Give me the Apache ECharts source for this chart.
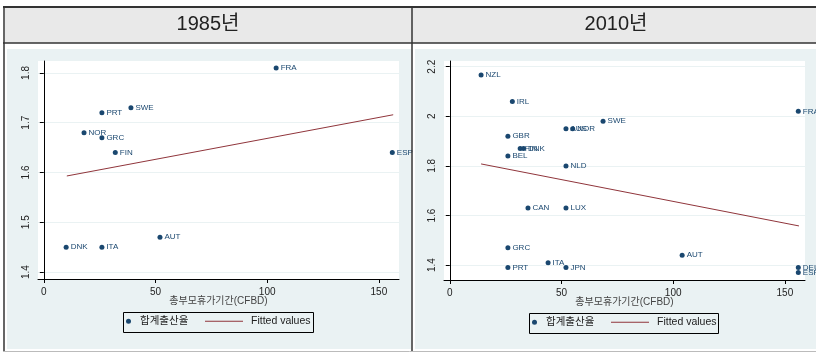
<!DOCTYPE html>
<html>
<head>
<meta charset="utf-8">
<script src="https://cdn.jsdelivr.net/npm/echarts@6/dist/echarts.min.js"></script>
<style>html,body{margin:0;padding:0;background:#fff}#c{width:816px;height:353px}</style>
</head>
<body>
<div id="c"></div>
<script>
// ---- data ----
const panelTitles = ['1985년', '2010년'];
const xName = '총부모휴가기간(CFBD)';
const scatterName = '합계출산율';
const fitName = 'Fitted values';

const codes1985 = ['FRA','PRT','SWE','NOR','GRC','FIN','ESP','DNK','ITA','AUT'];
const cfbd1985  = [104, 26, 39, 18, 26, 32, 156, 10, 26, 52];
const tfr1985   = [1.81, 1.72, 1.73, 1.68, 1.67, 1.64, 1.64, 1.45, 1.45, 1.47];
const fitX1985  = [10.3, 156.4];
const fitY1985  = [1.593, 1.716];

const codes2010 = ['NZL','IRL','FRA','SWE','AUS','NOR','GBR','FIN','DNK','BEL','NLD','CAN','LUX','GRC','PRT','ITA','JPN','AUT','DEU','ESP'];
const cfbd2010  = [14, 28, 156, 68.6, 52, 55, 26, 31.5, 33, 26, 52, 35, 52, 26, 26, 44, 52, 104, 156, 156];
const tfr2010   = [2.167, 2.06, 2.02, 1.98, 1.95, 1.95, 1.92, 1.87, 1.87, 1.84, 1.80, 1.63, 1.63, 1.47, 1.39, 1.41, 1.39, 1.44, 1.39, 1.37];
const fitX2010  = [14, 156.3];
const fitY2010  = [1.808, 1.558];

const xTicks = [0, 50, 100, 150];
const yTicks1985 = [1.4, 1.5, 1.6, 1.7, 1.8];
const yTicks2010 = [1.4, 1.6, 1.8, 2, 2.2];

// ---- styles ----
const NAVY = '#1a476f';
const MAROON = '#90353b';
const BG = '#eaf2f3';
const FONT = '"Liberation Sans", "Noto Sans CJK KR", sans-serif';
const HFONT = '"Liberation Sans", "Noto Sans CJK KR", sans-serif';

const chart = echarts.init(document.getElementById('c'));

function pts(codes, xs, ys) {
  return codes.map((c, i) => ({ name: c, value: [xs[i], ys[i]] }));
}
function line(xs, ys) { return xs.map((x, i) => [x, ys[i]]); }

const grids = [
  { left: 38, right: 417, top: 61, bottom: 74, show: true, backgroundColor: '#fff', borderWidth: 0 },
  { left: 444, right: 11, top: 61, bottom: 73, show: true, backgroundColor: '#fff', borderWidth: 0 }
];

function xAxis(gi) {
  return {
    type: 'value', gridIndex: gi, min: -2.6, max: 159,
    name: xName, nameLocation: 'middle', nameGap: 17.5, nameMoveOverlap: false,
    nameTextStyle: { fontSize: 10, color: '#444', fontFamily: FONT, verticalAlign: 'top' },
    axisLine: { show: true, lineStyle: { color: '#000', width: 1 } },
    axisTick: { show: true, length: 4, lineStyle: { color: '#000' }, customValues: xTicks },
    axisLabel: { fontSize: 10, color: '#222', margin: 8, fontFamily: FONT, customValues: xTicks },
    splitLine: { show: false }
  };
}
function yAxis(gi, min, max, ticks) {
  return {
    type: 'value', gridIndex: gi, min: min, max: max,
    axisLine: { show: true, lineStyle: { color: '#000', width: 1 } },
    axisTick: { show: true, length: 4, lineStyle: { color: '#000' }, customValues: ticks },
    axisLabel: { fontSize: 10, color: '#222', margin: 7, rotate: 90, fontFamily: FONT, customValues: ticks },
    splitLine: { show: true, lineStyle: { color: BG, width: 1 }, customValues: ticks }
  };
}

function scatter(gi, data) {
  return {
    type: 'scatter', name: scatterName, xAxisIndex: gi, yAxisIndex: gi,
    data: data, symbolSize: 5, itemStyle: { color: NAVY, opacity: 1 },
    clip: false,
    label: { show: true, position: 'right', distance: 2, fontSize: 8, color: NAVY, fontFamily: FONT,
      formatter: p => p.name },
    emphasis: { disabled: true }, z: 3
  };
}
function fit(gi, data) {
  return {
    type: 'line', name: fitName, xAxisIndex: gi, yAxisIndex: gi,
    data: data, symbol: 'none', showSymbol: false, lineStyle: { color: MAROON, width: 1 }, itemStyle: { color: MAROON },
    emphasis: { disabled: true }, z: 2
  };
}

function legends(x0, y0) {
  return [
    { data: [{ name: scatterName, icon: 'circle' }], left: x0 + 3, top: y0 + 4, itemWidth: 5, itemHeight: 5, itemGap: 0,
      textStyle: { fontSize: 10.5, color: '#222', fontFamily: FONT, padding: [0, 0, 0, 4] }, padding: 0, selectedMode: false },
    { data: [{ name: fitName, icon: 'rect' }], left: x0 + 82, top: y0 + 4, itemWidth: 38, itemHeight: 1, itemGap: 0,
      itemStyle: { color: MAROON },
      textStyle: { fontSize: 10.5, color: '#222', fontFamily: FONT, padding: [0, 0, 0, 3] }, padding: 0, selectedMode: false }
  ];
}

const titles = [
  { text: panelTitles[0], left: 208, top: 14, textAlign: 'center', padding: 0,
    textStyle: { fontSize: 20, fontWeight: 'normal', fontFamily: HFONT, color: '#222' }, z: 200 },
  { text: panelTitles[1], left: 616, top: 14, textAlign: 'center', padding: 0,
    textStyle: { fontSize: 20, fontWeight: 'normal', fontFamily: HFONT, color: '#222' }, z: 200 }
];

const graphic = [
  { type: 'rect', z: -20, shape: { x: 5, y: 8, width: 811, height: 35 }, style: { fill: '#e9e9e9' } },
  { type: 'rect', z: -20, shape: { x: 7, y: 49, width: 404, height: 300 }, style: { fill: BG } },
  { type: 'rect', z: -20, shape: { x: 415, y: 49, width: 401, height: 300 }, style: { fill: BG } },
  // legend boxes
  { type: 'rect', z: 50, shape: { x: 123.5, y: 312.5, width: 190, height: 20 }, style: { fill: 'none', stroke: '#000', lineWidth: 1 } },
  { type: 'rect', z: 50, shape: { x: 529.5, y: 313.5, width: 189, height: 20 }, style: { fill: 'none', stroke: '#000', lineWidth: 1 } },
  // table lines
  { type: 'line', z: 100, shape: { x1: 3, y1: 7, x2: 816, y2: 7 }, style: { stroke: '#333', lineWidth: 2 } },
  { type: 'line', z: 100, shape: { x1: 3, y1: 43, x2: 816, y2: 43 }, style: { stroke: '#333', lineWidth: 1.5 } },
  { type: 'line', z: 100, shape: { x1: 4, y1: 6, x2: 4, y2: 352 }, style: { stroke: '#333', lineWidth: 1.5 } },
  { type: 'line', z: 100, shape: { x1: 412, y1: 6, x2: 412, y2: 352 }, style: { stroke: '#333', lineWidth: 1.5 } },
  { type: 'line', z: 100, shape: { x1: 3, y1: 351.5, x2: 816, y2: 351.5 }, style: { stroke: '#bbb', lineWidth: 1 } }
];

chart.setOption({
  backgroundColor: '#fff',
  animation: false,
  textStyle: { fontFamily: FONT },
  title: titles,
  grid: grids,
  xAxis: [xAxis(0), xAxis(1)],
  yAxis: [yAxis(0, 1.386, 1.824, yTicks1985), yAxis(1, 1.34, 2.223, yTicks2010)],
  legend: legends(123, 312).concat(legends(529, 313)),
  graphic: graphic,
  series: [
    scatter(0, pts(codes1985, cfbd1985, tfr1985)),
    fit(0, line(fitX1985, fitY1985)),
    scatter(1, pts(codes2010, cfbd2010, tfr2010)),
    fit(1, line(fitX2010, fitY2010))
  ]
});
</script>
</body>
</html>
